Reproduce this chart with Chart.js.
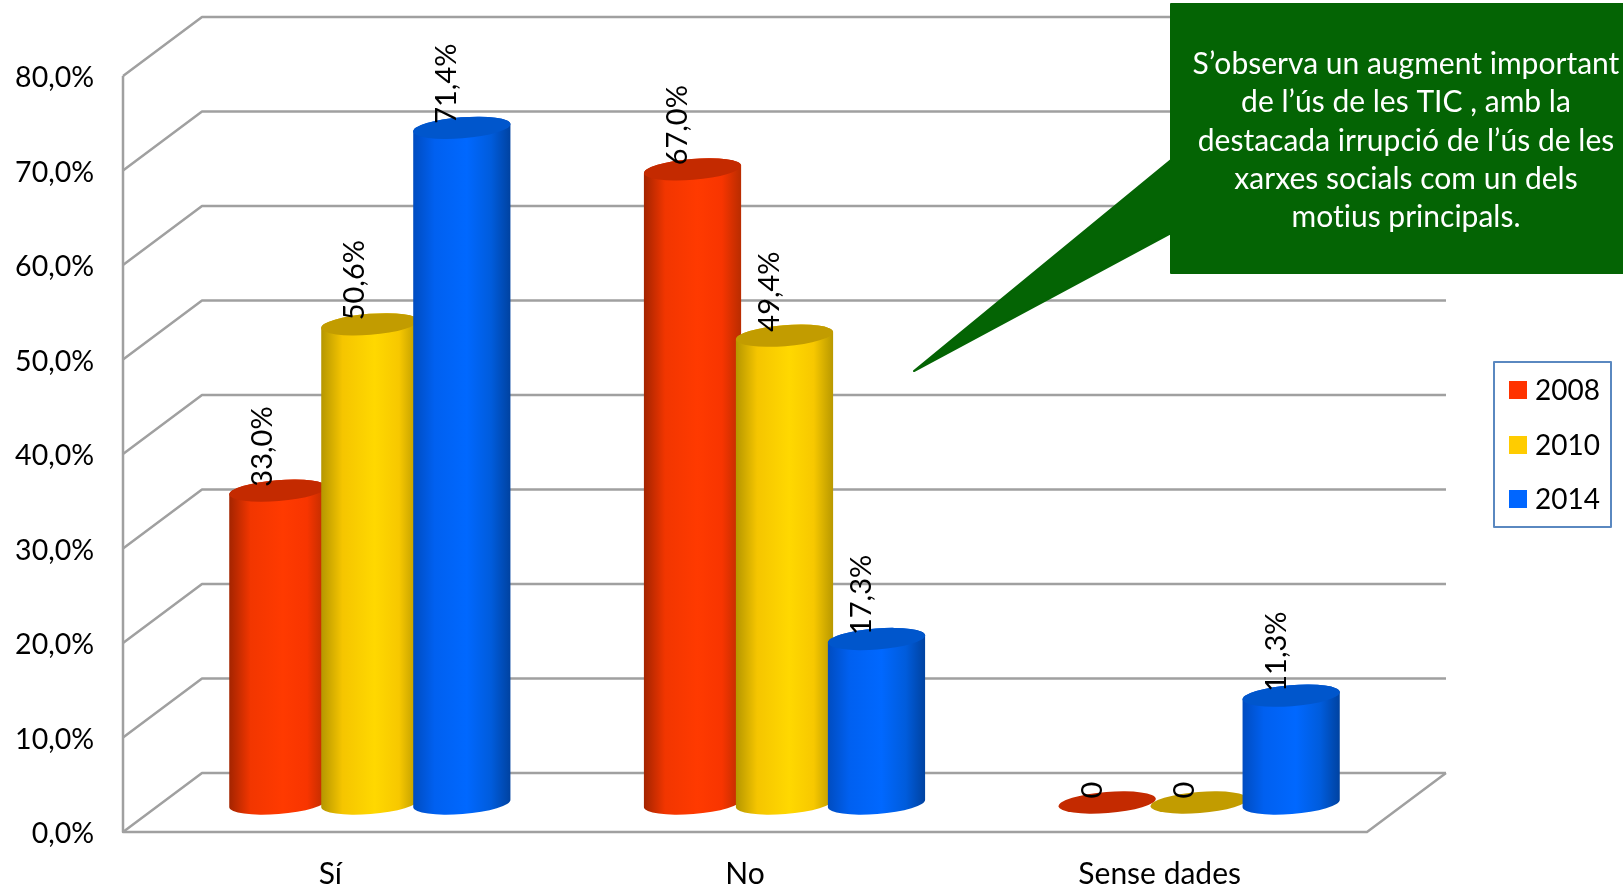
<!DOCTYPE html>
<html>
<head>
<meta charset="utf-8">
<title>Ús de les TIC</title>
<script src="https://cdn.jsdelivr.net/npm/chart.js@4"></script>
<style>
  html, body { margin: 0; padding: 0; background: #fff; }
  canvas { display: block; }
</style>
</head>
<body>
<canvas id="chart" width="1623" height="888"></canvas>
<script>
const categories = ['Sí', 'No', 'Sense dades'];
const years = ['2008', '2010', '2014'];
const values2008 = [33.0, 67.0, 0];
const values2010 = [50.6, 49.4, 0];
const values2014 = [71.4, 17.3, 11.3];
const yMax = 80;
const yStep = 10;
const calloutLines = [
  'S’observa un augment important',
  'de l’ús de les TIC , amb la',
  'destacada irrupció de l’ús de les',
  'xarxes socials com un dels',
  'motius principals.'
];

const FONT = 'Lato, Carlito, sans-serif';
const DEPTH_X = 79, DEPTH_Y = -59;
const GRID = '#a0a0a0';

// dark edge, mid, bright, mid, dark edge + the colour of the cap
const SHADES = [
  { stops: ['#a32400', '#f23600', '#ff3a00', '#f83500', '#b82c00'], cap: '#c42a00' },
  { stops: ['#b59600', '#f5c500', '#ffd800', '#f7c800', '#b89800'], cap: '#c29c00' },
  { stops: ['#004cc0', '#0060f0', '#0068ff', '#005cdc', '#0042a0'], cap: '#0056cc' }
];

function fmt(v) {
  return v === 0 ? '0' : v.toFixed(1).replace('.', ',') + '%';
}

function drawWalls(ctx, chart) {
  const ys = chart.scales.y;
  const l = chart.chartArea.left, r = chart.chartArea.right;
  ctx.strokeStyle = GRID;
  ctx.lineWidth = 2.5;
  ctx.lineJoin = 'round';
  ys.ticks.forEach(t => {
    const y = ys.getPixelForValue(t.value);
    ctx.beginPath();
    ctx.moveTo(l, y);
    ctx.lineTo(l + DEPTH_X, y + DEPTH_Y);
    ctx.lineTo(r + DEPTH_X, y + DEPTH_Y);
    ctx.stroke();
  });
  const y0 = ys.getPixelForValue(0);
  ctx.beginPath();
  ctx.moveTo(l, ys.getPixelForValue(yMax));
  ctx.lineTo(l, y0);
  ctx.lineTo(r, y0);
  ctx.lineTo(r + DEPTH_X, y0 + DEPTH_Y);
  ctx.stroke();
}

function drawCylinder(ctx, bar, shade, value) {
  const cx = bar.x + DEPTH_X / 2;
  const top = bar.y + DEPTH_Y / 2;
  const base = bar.base + DEPTH_Y / 2 + 1;
  const rx = bar.width / 2, ry = 10.5, rot = -4.5 * Math.PI / 180;

  if (value > 0) {
    const g = ctx.createLinearGradient(cx - rx, 0, cx + rx, 0);
    [0, 0.22, 0.55, 0.8, 1].forEach((p, i) => g.addColorStop(p, shade.stops[i]));
    ctx.fillStyle = g;
    ctx.beginPath();
    ctx.ellipse(cx, top, rx, ry, rot, Math.PI, 0, false);
    ctx.ellipse(cx, base, rx, ry, rot, 0, Math.PI, false);
    ctx.closePath();
    ctx.fill();
  }
  ctx.fillStyle = shade.cap;
  ctx.beginPath();
  ctx.ellipse(cx, top, rx, ry, rot, 0, Math.PI * 2);
  ctx.fill();
}

function drawValueLabels(ctx, chart) {
  ctx.fillStyle = '#000';
  ctx.font = '29px ' + FONT;
  ctx.textAlign = 'left';
  ctx.textBaseline = 'middle';
  chart.data.datasets.forEach((ds, i) => {
    chart.getDatasetMeta(i).data.forEach((bar, j) => {
      const cx = bar.x + DEPTH_X / 2;
      const top = bar.y + DEPTH_Y / 2;
      ctx.save();
      ctx.translate(cx - 15, top - 4);
      ctx.rotate(-Math.PI / 2);
      ctx.fillText(fmt(ds.data[j]), 0, 0);
      ctx.restore();
    });
  });
}

function drawLegend(ctx, chart) {
  ctx.strokeStyle = '#5a88c0';
  ctx.lineWidth = 2;
  ctx.strokeRect(1494, 362, 117, 165);
  ctx.font = '28px ' + FONT;
  ctx.textAlign = 'left';
  ctx.textBaseline = 'middle';
  const rows = [390, 445, 499];
  chart.data.datasets.forEach((ds, i) => {
    ctx.fillStyle = ds.backgroundColor;
    ctx.fillRect(1509, rows[i] - 9, 18, 18);
    ctx.fillStyle = '#000';
    ctx.fillText(ds.label, 1535, rows[i] + 1);
  });
}

function drawCallout(ctx) {
  ctx.fillStyle = '#046404';
  ctx.strokeStyle = '#046404';
  ctx.lineWidth = 2;
  ctx.lineJoin = 'round';
  ctx.beginPath();
  ctx.moveTo(1171, 4);
  ctx.lineTo(1624, 4);
  ctx.lineTo(1624, 273);
  ctx.lineTo(1171, 273);
  ctx.lineTo(1171, 233);
  ctx.lineTo(914, 371);
  ctx.lineTo(1171, 160);
  ctx.closePath();
  ctx.fill();
  ctx.stroke();

  ctx.fillStyle = '#fff';
  ctx.font = '30px ' + FONT;
  ctx.letterSpacing = '0.01px'; // stops the "ti" ligature in Lato
  ctx.textAlign = 'center';
  ctx.textBaseline = 'middle';
  const rows = [64, 102, 141, 179, 217];
  calloutLines.forEach((line, i) => ctx.fillText(line, 1406, rows[i]));
}

const cylinders = {
  id: 'cylinders',
  // tick labels sit slightly lower than chart.js would centre them
  afterLayout(chart) {
    chart.scales.y.getLabelItems().forEach(item => { item.options.translation[1] += 2; });
  },
  beforeDatasetsDraw(chart) {
    const ctx = chart.ctx;
    ctx.save();
    drawWalls(ctx, chart);
    chart.data.datasets.forEach((ds, i) => {
      chart.getDatasetMeta(i).data.forEach((bar, j) => drawCylinder(ctx, bar, SHADES[i], ds.data[j]));
    });
    drawValueLabels(ctx, chart);
    drawLegend(ctx, chart);
    drawCallout(ctx);
    ctx.restore();
    return false;
  }
};

new Chart(document.getElementById('chart').getContext('2d'), {
  type: 'bar',
  data: {
    labels: categories,
    datasets: [
      { label: years[0], data: values2008, backgroundColor: '#ff3300' },
      { label: years[1], data: values2010, backgroundColor: '#ffcc00' },
      { label: years[2], data: values2014, backgroundColor: '#0066ff' }
    ]
  },
  options: {
    responsive: false,
    animation: false,
    categoryPercentage: 0.6655,
    barPercentage: 1.06,
    layout: { padding: { left: 0, right: 256, top: 76, bottom: 0 } },
    plugins: {
      legend: { display: false },
      tooltip: { enabled: false }
    },
    scales: {
      x: {
        afterFit: s => { s.height = 56; },
        grid: { display: false, drawTicks: false },
        border: { display: false },
        ticks: { color: '#000', padding: 24, maxRotation: 0, font: { family: FONT, size: 30 } }
      },
      y: {
        min: 0,
        max: yMax,
        afterFit: s => { s.width = 123; },
        grid: { display: false, drawTicks: false },
        border: { display: false },
        ticks: {
          stepSize: yStep,
          color: '#000',
          padding: 29,
          font: { family: FONT, size: 28.5 },
          callback: v => v.toFixed(1).replace('.', ',') + '%'
        }
      }
    }
  },
  plugins: [cylinders]
});
</script>
</body>
</html>
